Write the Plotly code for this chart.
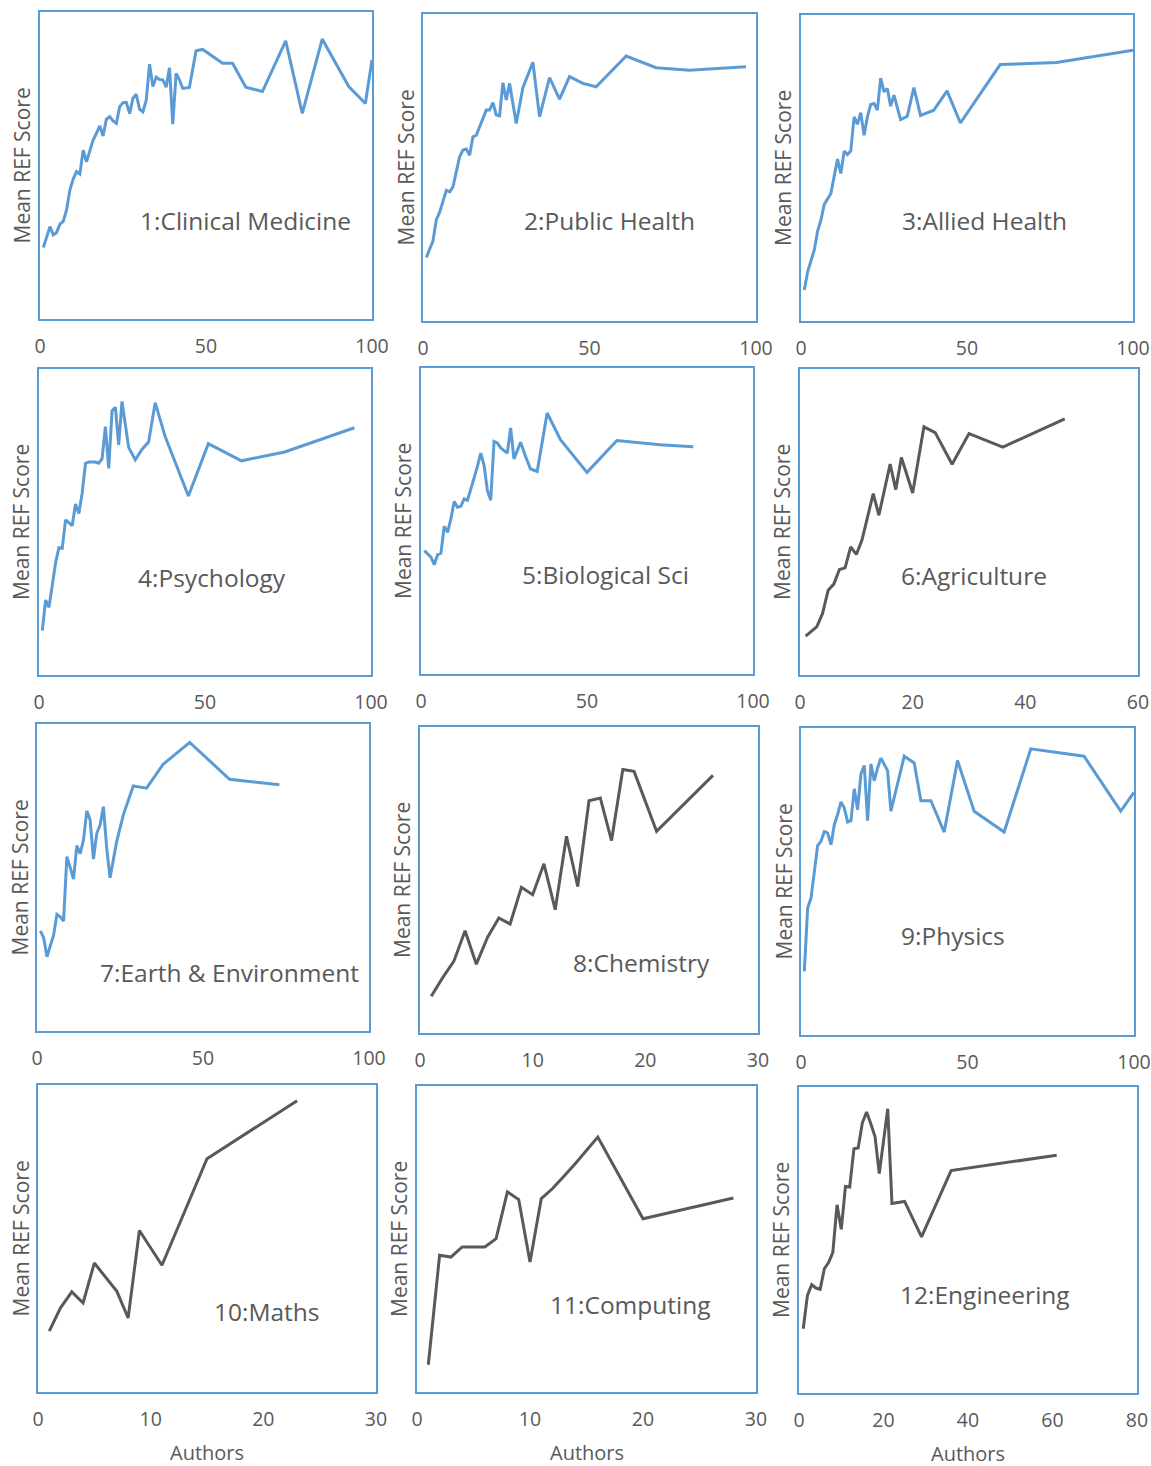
import plotly.graph_objects as go

# ---- data: authors per output vs mean REF score (scaled 0-1 within each panel) ----
clin_x = [1, 3, 4, 5, 6, 7, 8, 9, 10, 11, 12, 13, 14, 15, 16, 17, 18, 19, 20, 21, 22, 23, 24, 25, 26,
          27, 28, 29, 30, 31, 32, 33, 34, 35, 36, 37, 38, 39, 40, 41, 42, 43, 45, 47, 49, 55, 58, 62,
          67, 74, 79, 85, 93, 98, 100]
clin_y = [0.233, 0.301, 0.274, 0.282, 0.309, 0.318, 0.355, 0.420, 0.456, 0.480, 0.472, 0.550, 0.512,
          0.545, 0.583, 0.605, 0.629, 0.596, 0.651, 0.659, 0.645, 0.637, 0.692, 0.705, 0.706, 0.669,
          0.719, 0.732, 0.683, 0.675, 0.713, 0.830, 0.757, 0.788, 0.780, 0.779, 0.755, 0.818, 0.635,
          0.800, 0.779, 0.751, 0.754, 0.874, 0.878, 0.833, 0.833, 0.755, 0.741, 0.906, 0.670, 0.912,
          0.757, 0.702, 0.844]

pub_x = [1, 3, 4, 5, 7, 8, 9, 10, 11, 12, 13, 14, 15, 16, 17, 18, 19, 20, 21, 22, 23, 24, 25, 26,
         28, 30, 33, 35, 38, 41, 44, 48, 52, 61, 70, 80, 97]
pub_y = [0.207, 0.261, 0.330, 0.354, 0.426, 0.421, 0.437, 0.491, 0.535, 0.557, 0.560, 0.540, 0.600,
         0.605, 0.633, 0.665, 0.687, 0.687, 0.711, 0.671, 0.668, 0.776, 0.720, 0.774, 0.643, 0.760,
         0.843, 0.665, 0.793, 0.723, 0.796, 0.774, 0.763, 0.863, 0.825, 0.817, 0.828]

allied_x = [1, 2, 4, 5, 6, 7, 9, 10, 11, 12, 13, 14, 15, 16, 17, 18, 19, 20, 21, 22, 23, 24, 25, 26,
            27, 28, 30, 32, 34, 36, 40, 44, 48, 60, 77, 100]
allied_y = [0.101, 0.161, 0.232, 0.294, 0.330, 0.381, 0.417, 0.471, 0.529, 0.482, 0.555, 0.544, 0.556,
            0.667, 0.643, 0.681, 0.607, 0.667, 0.708, 0.711, 0.689, 0.794, 0.749, 0.760, 0.702, 0.738,
            0.658, 0.669, 0.763, 0.672, 0.689, 0.752, 0.647, 0.838, 0.845, 0.885]

psych_x = [1, 2, 3, 4, 5, 6, 7, 8, 10, 11, 12, 13, 14, 15, 17, 18, 19, 20, 21, 22, 23, 24, 25, 27,
           29, 31, 33, 35, 38, 45, 51, 61, 74, 95]
psych_y = [0.145, 0.245, 0.221, 0.289, 0.367, 0.416, 0.414, 0.507, 0.488, 0.559, 0.528, 0.594, 0.692,
           0.696, 0.696, 0.692, 0.707, 0.812, 0.675, 0.864, 0.875, 0.752, 0.894, 0.744, 0.703, 0.737,
           0.761, 0.890, 0.779, 0.585, 0.756, 0.700, 0.729, 0.808]

bio_x = [1, 3, 4, 5, 6, 7, 8, 9, 10, 11, 12, 13, 14, 15, 16, 17, 18, 19, 20, 21, 22, 23, 24, 26,
         27, 28, 30, 31.5, 33, 35, 38, 42, 50, 59, 72, 82]
bio_y = [0.403, 0.382, 0.357, 0.390, 0.395, 0.483, 0.463, 0.507, 0.564, 0.545, 0.548, 0.572, 0.568,
         0.602, 0.641, 0.679, 0.722, 0.681, 0.600, 0.568, 0.760, 0.755, 0.739, 0.722, 0.804, 0.703,
         0.757, 0.711, 0.670, 0.662, 0.853, 0.766, 0.659, 0.763, 0.749, 0.743]

agri_x = [1, 3, 4, 5, 6, 7, 8, 9, 10, 11, 12, 13, 14, 16, 17, 18, 20, 22, 24, 27, 30, 36, 47]
agri_y = [0.127, 0.158, 0.201, 0.277, 0.297, 0.345, 0.350, 0.419, 0.394, 0.441, 0.517, 0.593, 0.522,
          0.689, 0.606, 0.711, 0.595, 0.811, 0.792, 0.689, 0.789, 0.745, 0.837]

earth_x = [1, 2, 3, 5, 6, 7, 8, 9, 10, 11, 12, 13, 14, 15, 16, 17, 18, 19, 20, 21, 22, 23, 24, 26,
           29, 33, 38, 46, 58, 73]
earth_y = [0.326, 0.304, 0.242, 0.312, 0.380, 0.372, 0.358, 0.568, 0.532, 0.495, 0.604, 0.578, 0.622,
           0.717, 0.688, 0.560, 0.644, 0.671, 0.731, 0.595, 0.499, 0.563, 0.617, 0.704, 0.798, 0.791,
           0.869, 0.940, 0.820, 0.802]

chem_x = [1, 2, 3, 4, 5, 6, 7, 8, 9, 10, 11, 12, 13, 14, 15, 16, 17, 18, 19, 21, 26]
chem_y = [0.120, 0.180, 0.234, 0.334, 0.225, 0.313, 0.376, 0.356, 0.476, 0.452, 0.553, 0.403, 0.643,
          0.479, 0.759, 0.768, 0.629, 0.861, 0.855, 0.659, 0.842]

phys_x = [1, 2, 3, 4, 5, 6, 7, 8, 9, 10, 11, 12, 13, 14, 15, 16, 17, 18, 19, 20, 21, 22, 23, 24, 25,
          26, 27, 31, 34, 36, 39, 43, 47, 52, 61, 69, 85, 96, 100]
phys_y = [0.207, 0.414, 0.446, 0.533, 0.617, 0.631, 0.663, 0.658, 0.620, 0.685, 0.718, 0.759, 0.739,
          0.694, 0.698, 0.802, 0.734, 0.850, 0.878, 0.698, 0.883, 0.828, 0.870, 0.902, 0.883, 0.861,
          0.729, 0.908, 0.886, 0.763, 0.763, 0.661, 0.894, 0.729, 0.661, 0.932, 0.908, 0.729, 0.790]

maths_x = [1, 2, 3, 4, 5, 6, 7, 8, 9, 11, 15, 23]
maths_y = [0.198, 0.274, 0.326, 0.290, 0.420, 0.375, 0.328, 0.241, 0.526, 0.413, 0.760, 0.949]

comp_x = [1, 2, 3, 4, 5, 6, 7, 8, 9, 10, 11, 12, 13, 14, 16, 20, 28]
comp_y = [0.089, 0.447, 0.441, 0.474, 0.474, 0.474, 0.501, 0.654, 0.629, 0.425, 0.632, 0.665, 0.705,
          0.746, 0.833, 0.566, 0.634]

eng_x = [1, 2, 3, 4, 5, 6, 7, 8, 9, 10, 11, 12, 13, 14, 15, 16, 17, 18, 19, 21, 22, 25, 29, 36, 61]
eng_y = [0.210, 0.319, 0.354, 0.343, 0.339, 0.406, 0.426, 0.459, 0.615, 0.535, 0.675, 0.673, 0.798,
         0.801, 0.883, 0.918, 0.880, 0.837, 0.717, 0.929, 0.619, 0.626, 0.510, 0.727, 0.777]

panel_titles = ["1:Clinical Medicine", "2:Public Health", "3:Allied Health", "4:Psychology",
                "5:Biological Sci", "6:Agriculture", "7:Earth & Environment", "8:Chemistry",
                "9:Physics", "10:Maths", "11:Computing", "12:Engineering"]
x_ticks = [[0, 50, 100], [0, 50, 100], [0, 50, 100], [0, 50, 100], [0, 50, 100], [0, 20, 40, 60],
           [0, 50, 100], [0, 10, 20, 30], [0, 50, 100], [0, 10, 20, 30], [0, 10, 20, 30],
           [0, 20, 40, 60, 80]]
y_label = "Mean REF Score"
x_label = "Authors"

series = [(clin_x, clin_y), (pub_x, pub_y), (allied_x, allied_y), (psych_x, psych_y),
          (bio_x, bio_y), (agri_x, agri_y), (earth_x, earth_y), (chem_x, chem_y),
          (phys_x, phys_y), (maths_x, maths_y), (comp_x, comp_y), (eng_x, eng_y)]

# ---- styling / layout ----
W, H = 1151, 1466
BLUE = "#5B9BD5"
GREY = "#595959"
TEXT = "#595959"
FONT = "Open Sans"
line_colors = [BLUE, BLUE, BLUE, BLUE, BLUE, GREY, BLUE, GREY, BLUE, GREY, GREY, GREY]

# plot-box pixel edges (left, right, top, bottom)
boxes = [(40, 372, 12, 319), (423, 756, 14, 321), (801, 1133, 15, 321),
         (39, 371, 369, 675), (421, 753, 368, 674), (800, 1138, 369, 675),
         (37, 369, 724, 1031), (420, 758, 727, 1033), (801, 1134, 728, 1035),
         (38, 376, 1085, 1392), (417, 756, 1086, 1392), (799, 1137, 1087, 1393)]
# label centre inside each box, as fraction of box width / height
label_pos = [(0.62, 0.32), (0.56, 0.326), (0.554, 0.327), (0.52, 0.32), (0.555, 0.324),
             (0.515, 0.326), (0.581, 0.19), (0.656, 0.23), (0.456, 0.323), (0.677, 0.263),
             (0.63, 0.287), (0.55, 0.323)]

fig = go.Figure()
annotations = []
for i, ((xs, ys), (l, r, t, b)) in enumerate(zip(series, boxes)):
    n = "" if i == 0 else str(i + 1)
    xa, ya = "x" + n, "y" + n
    fig.add_trace(go.Scatter(x=xs, y=ys, mode="lines", xaxis=xa, yaxis=ya,
                             line=dict(color=line_colors[i], width=3), showlegend=False,
                             hoverinfo="x+y"))
    ticks = x_ticks[i]
    fig.layout["xaxis" + n] = dict(
        domain=[l / W, r / W], range=[ticks[0], ticks[-1]], anchor=ya, automargin=False,
        tickvals=ticks, ticks="", showgrid=False, zeroline=False,
        showline=True, mirror=True, linecolor=BLUE, linewidth=1.5,
        tickfont=dict(family=FONT, size=19.5, color=TEXT), ticklabelstandoff=9)
    fig.layout["yaxis" + n] = dict(
        domain=[1 - b / H, 1 - t / H], range=[0, 1], anchor=xa, automargin=False,
        showticklabels=False, ticks="", showgrid=False, zeroline=False,
        showline=True, mirror=True, linecolor=BLUE, linewidth=1.5)
    xd, yd = xa + " domain", ya + " domain"
    lx, ly = label_pos[i]
    annotations.append(dict(text=panel_titles[i], xref=xd, yref=yd, x=lx, y=ly,
                            xanchor="center", yanchor="middle", showarrow=False,
                            font=dict(family=FONT, size=24.5, color=TEXT)))
    annotations.append(dict(text=y_label, xref=xd, yref=yd, x=0, y=0.5, xshift=-18,
                            textangle=-90, xanchor="center", yanchor="middle", showarrow=False,
                            font=dict(family=FONT, size=21, color=TEXT)))
    if i >= 9:
        annotations.append(dict(text=x_label, xref=xd, yref=yd, x=0.5, y=0, yshift=-60,
                                xanchor="center", yanchor="middle", showarrow=False,
                                font=dict(family=FONT, size=20, color=TEXT)))

fig.update_layout(width=W, height=H, autosize=False,
                  margin=dict(l=0, r=0, t=0, b=0, pad=0, autoexpand=False),
                  paper_bgcolor="white", plot_bgcolor="white",
                  annotations=annotations, font=dict(family=FONT, color=TEXT))

# keep the page exactly the figure's size (no body margin, no scrollbars)
page_css = ("document.body.style.margin='0';"
            "document.body.style.overflow='hidden';"
            "document.documentElement.style.overflow='hidden';")
fig.write_html("out.html", post_script=page_css, config={"responsive": False})
